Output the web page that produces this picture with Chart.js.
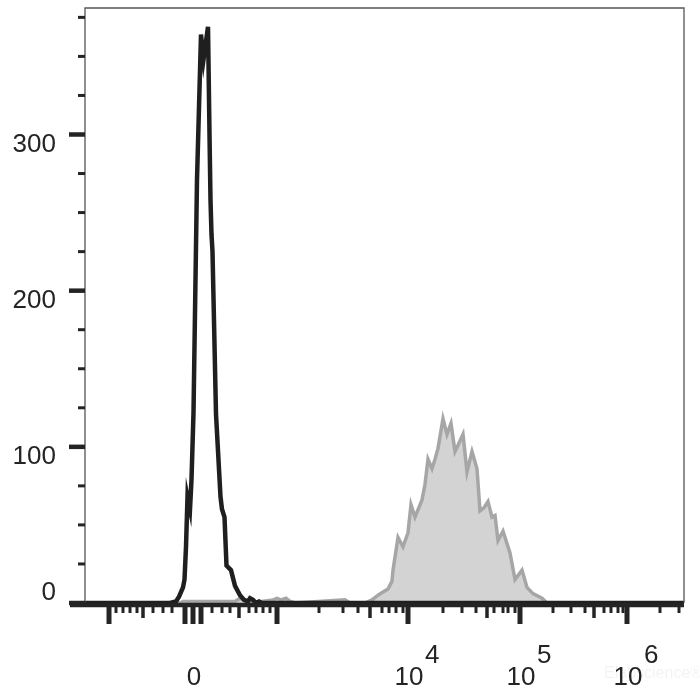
<!DOCTYPE html>
<html>
<head>
<meta charset="utf-8">
<script src="https://cdn.jsdelivr.net/npm/chart.js@4.4.1/dist/chart.umd.min.js"></script>
<style>
  html, body { margin: 0; padding: 0; background: #fff; }
  #wrap { width: 700px; height: 700px; }
</style>
</head>
<body>
<div id="wrap"><canvas id="flowHist" width="700" height="700"></canvas></div>
<script>
// x values are display channels (biexponential axis), y values are cell counts
const controlX = [0, 85, 91, 94, 98, 99.5, 101, 102.5, 105, 106.5, 108.5, 110, 112, 116, 118.5, 123, 124.5, 125.5, 126.5, 127.5, 131, 135.5, 137, 139.5, 141.5, 146, 150, 155, 159, 163, 165, 168, 171, 174, 177, 599];
const controlCount = [0, 0, 1, 4, 10, 15, 36, 68, 60, 79, 122, 186, 271, 364, 348, 369, 300, 258, 236, 225, 121, 68, 60, 55, 24, 21, 11, 5, 2, 1, 3, 2, 0, 1, 0, 0];

const stainedX = [0, 95, 98, 150, 155, 159, 162, 165, 188, 192, 196, 201, 205, 210, 260, 265, 280, 287, 293, 298, 303, 307, 308, 313, 318, 323, 326, 330, 337, 340, 343, 347, 350, 353, 358, 362, 366, 370, 373, 378, 382, 387, 392, 395, 399, 403, 407, 410, 413, 418, 425, 430, 437, 442, 448, 457, 462, 599];
const stainedCount = [0, 0, 1, 1, 3, 2, 1, 0, 2, 3, 2, 3, 1, 0, 2, 0, 0, 2, 5, 7, 9, 14, 21, 42, 36, 45, 63, 55, 66, 76, 92, 86, 92, 99, 118, 108, 115, 97, 101, 108, 84, 97, 86, 59, 61, 65, 55, 56, 40, 46, 32, 15, 21, 10, 6, 3, 0, 0];

// axis decoration
const yTicks = [0, 25, 50, 75, 100, 125, 150, 175, 200, 225, 250, 275, 300, 325, 350, 375];
const yLabels = [0, 100, 200, 300];
const xTickMajor = [24, 100, 108, 116, 192, 323, 435, 542];
const xTickMid = [58, 154, 285, 402, 509];
const xTickMinor = [31, 38, 45, 52, 68, 78, 87, 127, 137, 145, 164, 171, 178, 185, 234, 258, 273, 297, 304, 311, 318,
  358, 377, 391, 409, 418, 423, 430, 468, 486, 500, 519, 526, 533, 538, 575, 594];
const xLabelPos = [108, 323, 435, 542];
const xLabelBase = ['0', '10', '10', '10'];
const xLabelExp = ['', '4', '5', '6'];

const FONT = '"Liberation Sans", Arial, Helvetica, sans-serif';
const INK = '#242424';

function toPoints(xs, ys) {
  return xs.map((x, i) => ({ x: x, y: ys[i] }));
}

const flowAxes = {
  id: 'flowAxes',
  afterDatasetsDraw(chart) {
    const ctx = chart.ctx;
    const area = chart.chartArea;
    const xs = chart.scales.x;
    const ys = chart.scales.y;
    ctx.save();

    // frame: top/right thin, left thin
    ctx.strokeStyle = '#555';
    ctx.lineWidth = 1.3;
    ctx.beginPath();
    ctx.moveTo(area.left, area.bottom);
    ctx.lineTo(area.left, area.top);
    ctx.lineTo(area.right, area.top);
    ctx.lineTo(area.right, area.bottom);
    ctx.stroke();

    // bottom axis line, thick
    ctx.strokeStyle = INK;
    ctx.lineWidth = 4.5;
    ctx.beginPath();
    ctx.moveTo(area.left - 15, area.bottom + 2);
    ctx.lineTo(area.right, area.bottom + 2);
    ctx.stroke();

    // y ticks
    yTicks.forEach(v => {
      const y = ys.getPixelForValue(v);
      const major = yLabels.includes(v);
      ctx.lineWidth = major ? 4.5 : 3;
      ctx.beginPath();
      ctx.moveTo(area.left - (major ? 16 : 7), y);
      ctx.lineTo(area.left, y);
      ctx.stroke();
    });

    // x ticks
    const drawX = (arr, len, w) => {
      ctx.lineWidth = w;
      arr.forEach(v => {
        const x = xs.getPixelForValue(v);
        ctx.beginPath();
        ctx.moveTo(x, area.bottom + 2);
        ctx.lineTo(x, area.bottom + len);
        ctx.stroke();
      });
    };
    drawX(xTickMinor, 10, 3);
    drawX(xTickMid, 15, 3.5);
    drawX(xTickMajor, 21, 5);

    // labels
    ctx.fillStyle = INK;
    ctx.font = '26px ' + FONT;
    ctx.textBaseline = 'middle';
    ctx.textAlign = 'right';
    yLabels.forEach(v => {
      const y = Math.min(ys.getPixelForValue(v) + 10, area.bottom - 10);
      ctx.fillText(String(v), 56, y);
    });

    ctx.textBaseline = 'alphabetic';
    xLabelPos.forEach((v, i) => {
      const x = xs.getPixelForValue(v);
      ctx.textAlign = 'center';
      ctx.fillText(xLabelBase[i], x + 1, 685);
      if (xLabelExp[i]) {
        ctx.textAlign = 'left';
        ctx.fillText(xLabelExp[i], x + 17, 663);
      }
    });

    // faint watermark
    ctx.fillStyle = 'rgba(0,0,0,0.05)';
    ctx.font = '16px ' + FONT;
    ctx.textAlign = 'left';
    ctx.fillText('Elabscience\u00AE', 604, 678);
    ctx.restore();
  }
};

const ctx = document.getElementById('flowHist').getContext('2d');

new Chart(ctx, {
  type: 'line',
  data: {
    datasets: [{
      label: 'Isotype control',
      data: toPoints(controlX, controlCount),
      borderColor: '#1f1f1f',
      borderWidth: 4.5,
      fill: false,
      pointRadius: 0,
      tension: 0
    }, {
      label: 'Stained',
      data: toPoints(stainedX, stainedCount),
      borderColor: '#a6a6a6',
      backgroundColor: '#d3d3d3',
      borderWidth: 3.5,
      fill: 'origin',
      pointRadius: 0,
      tension: 0
    }]
  },
  options: {
    responsive: false,
    animation: false,
    layout: {
      padding: { left: 85, top: 8, right: 16, bottom: 97 }
    },
    scales: {
      x: { type: 'linear', min: 0, max: 599, display: false },
      y: { type: 'linear', min: 0, max: 381, display: false }
    },
    plugins: {
      legend: { display: false },
      tooltip: { enabled: false }
    }
  },
  plugins: [flowAxes]
});
</script>
</body>
</html>
